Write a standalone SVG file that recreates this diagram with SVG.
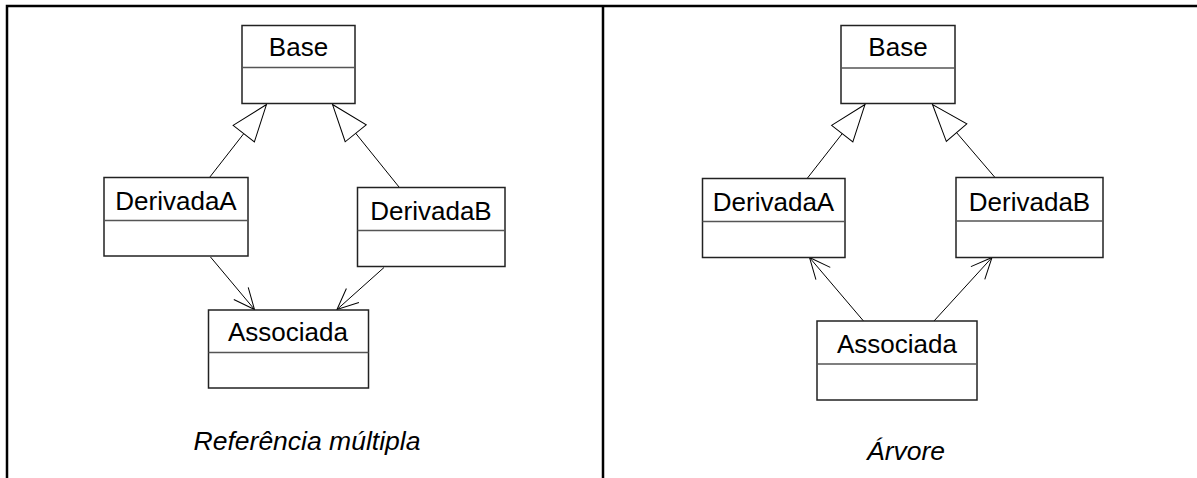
<svg xmlns="http://www.w3.org/2000/svg" width="1197" height="478" viewBox="0 0 1197 478">
<style>
.box{fill:#fff;stroke:#222;stroke-width:1.5}
.div{stroke:#555;stroke-width:1.5}
.lbl{font-family:"Liberation Sans",Arial,sans-serif;font-size:26px;fill:#000;text-anchor:middle}
.cap{font-family:"Liberation Sans",Arial,sans-serif;font-size:26.5px;font-style:italic;fill:#000;text-anchor:middle}
.gen{stroke:#000;stroke-width:1;fill:none;marker-end:url(#tri)}
.assoc{stroke:#000;stroke-width:1;fill:none;marker-end:url(#open)}
.frame{stroke:#000;stroke-width:2.5;fill:none}
</style>
<defs>
<marker id="tri" viewBox="0 0 37 27" refX="37" refY="13.5" markerWidth="37" markerHeight="27" markerUnits="userSpaceOnUse" orient="auto" overflow="visible">
<path d="M0,0 L37,13.5 L0,27 Z" fill="#fff" stroke="#000" stroke-width="1"/>
</marker>
<marker id="open" viewBox="0 0 21 19" refX="21" refY="9.4" markerWidth="21" markerHeight="19" markerUnits="userSpaceOnUse" orient="auto" overflow="visible">
<path d="M0,0 L21,9.4 L0,18.8" fill="none" stroke="#000" stroke-width="1"/>
</marker>
</defs>
<rect width="1197" height="478" fill="#fff"/>
<g id="frame">
<path class="frame" d="M7,478 V6 H1197"/>
<path class="frame" d="M603,6 V478"/>
</g>
<g id="connectors">
<line class="gen" x1="209.5" y1="177.5" x2="266.5" y2="104.5"/>
<line class="gen" x1="399" y1="187" x2="332.5" y2="104.5"/>
<line class="assoc" x1="210.5" y1="257" x2="254.5" y2="309.5"/>
<line class="assoc" x1="384" y1="267.5" x2="337" y2="309.5"/>
<line class="gen" x1="807.5" y1="178" x2="865" y2="104.5"/>
<line class="gen" x1="995" y1="177.5" x2="932.5" y2="104.5"/>
<line class="assoc" x1="863.5" y1="321" x2="809.5" y2="257.5"/>
<line class="assoc" x1="934" y1="321" x2="992" y2="257.5"/>
</g>
<g id="L-Base">
<rect class="box" x="242" y="25.5" width="113" height="78"/>
<line class="div" x1="242" y1="67.5" x2="355" y2="67.5"/>
<text class="lbl" x="298.5" y="56">Base</text>
</g>
<g id="L-DerivadaA">
<rect class="box" x="104" y="177.5" width="144" height="78.5"/>
<line class="div" x1="104" y1="220.5" x2="248" y2="220.5"/>
<text class="lbl" x="176" y="210">DerivadaA</text>
</g>
<g id="L-DerivadaB">
<rect class="box" x="357.5" y="187.5" width="147.5" height="79"/>
<line class="div" x1="357.5" y1="230.5" x2="505" y2="230.5"/>
<text class="lbl" x="431" y="220">DerivadaB</text>
</g>
<g id="L-Associada">
<rect class="box" x="208.5" y="310" width="160" height="78"/>
<line class="div" x1="208.5" y1="352.5" x2="368.5" y2="352.5"/>
<text class="lbl" x="288" y="341">Associada</text>
</g>
<text class="cap" x="307" y="450">Referência múltipla</text>
<g id="R-Base">
<rect class="box" x="841" y="25.5" width="114" height="78"/>
<line class="div" x1="841" y1="68" x2="955" y2="68"/>
<text class="lbl" x="898" y="56">Base</text>
</g>
<g id="R-DerivadaA">
<rect class="box" x="702.5" y="178.5" width="142.5" height="79"/>
<line class="div" x1="702.5" y1="221.5" x2="845" y2="221.5"/>
<text class="lbl" x="773.5" y="211">DerivadaA</text>
</g>
<g id="R-DerivadaB">
<rect class="box" x="956" y="177.5" width="147" height="80"/>
<line class="div" x1="956" y1="221" x2="1103" y2="221"/>
<text class="lbl" x="1029.5" y="210.5">DerivadaB</text>
</g>
<g id="R-Associada">
<rect class="box" x="817" y="321" width="160" height="79"/>
<line class="div" x1="817" y1="364" x2="977" y2="364"/>
<text class="lbl" x="897" y="352.5">Associada</text>
</g>
<text class="cap" x="906" y="460">Árvore</text>
</svg>
